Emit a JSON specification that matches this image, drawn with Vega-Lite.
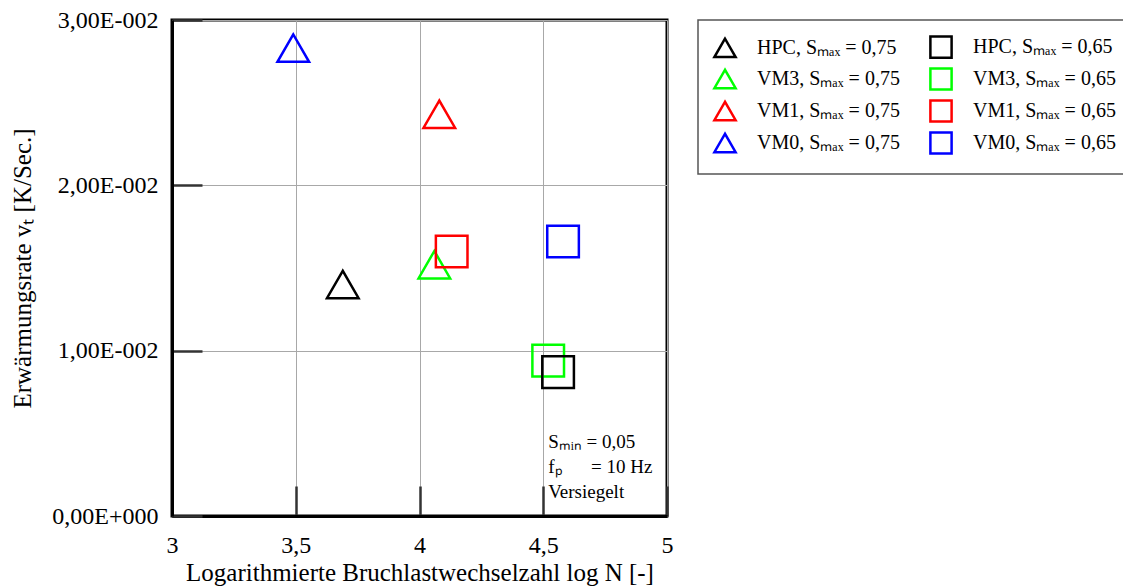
{
  "$schema": "https://vega.github.io/schema/vega-lite/v6.json",
  "width": 495,
  "height": 496,
  "autosize": {"type": "none"},
  "padding": {"left": 172, "top": 20, "right": 456, "bottom": 72},
  "background": "white",
  "config": {
    "font": "Liberation Serif",
    "view": {"stroke": "black", "strokeWidth": 3},
    "axis": {"labelFont": "Liberation Serif", "titleFont": "Liberation Serif"},
    "legend": {"strokeWidth": 1.5}
  },
  "layer": [
    {
      "data": {
        "values": [
          {"series": "VM0, Sₘₐₓ = 0,75", "logN": 3.49, "vT": 0.0283},
          {"series": "VM1, Sₘₐₓ = 0,75", "logN": 4.08, "vT": 0.0243},
          {"series": "HPC, Sₘₐₓ = 0,75", "logN": 3.69, "vT": 0.0140},
          {"series": "VM3, Sₘₐₓ = 0,75", "logN": 4.06, "vT": 0.0152},
          {"series": "VM1, Sₘₐₓ = 0,65", "logN": 4.13, "vT": 0.0160},
          {"series": "VM0, Sₘₐₓ = 0,65", "logN": 4.58, "vT": 0.0166},
          {"series": "VM3, Sₘₐₓ = 0,65", "logN": 4.52, "vT": 0.0094},
          {"series": "HPC, Sₘₐₓ = 0,65", "logN": 4.56, "vT": 0.0087}
        ]
      },
      "mark": {"type": "point", "filled": false, "strokeWidth": 2.5, "size": 1000, "opacity": 1},
      "encoding": {
        "x": {
          "field": "logN", "type": "quantitative",
          "scale": {"domain": [3, 5], "nice": false, "zero": false},
          "axis": {
            "values": [3, 3.5, 4, 4.5, 5],
            "labelExpr": "replace(toString(datum.value), '.', ',')",
            "grid": true, "gridColor": "#a8a8a8", "gridWidth": 1,
            "domainColor": "black", "domainWidth": 3,
            "tickSize": -30, "tickColor": "#333", "tickWidth": 2.5,
            "labelFontSize": 24, "labelColor": "black", "labelPadding": 47,
            "labelFlush": false,
            "title": "Logarithmierte Bruchlastwechselzahl log N [-]",
            "titleFontSize": 25, "titleFontWeight": "normal", "titleColor": "black", "titlePadding": 3
          }
        },
        "y": {
          "field": "vT", "type": "quantitative",
          "scale": {"domain": [0, 0.03], "nice": false},
          "axis": {
            "values": [0, 0.01, 0.02, 0.03],
            "labelExpr": "datum.value == 0 ? '0,00E+000' : replace(format(datum.value * 100, '.2f'), '.', ',') + 'E-002'",
            "grid": true, "gridColor": "#a8a8a8", "gridWidth": 1,
            "domainColor": "black", "domainWidth": 3,
            "tickSize": -30, "tickColor": "#333", "tickWidth": 2.5,
            "labelFontSize": 24, "labelColor": "black", "labelPadding": 44,
            "labelFlush": false,
            "title": "Erwärmungsrate vₜ [K/Sec.]",
            "titleFontSize": 25, "titleFontWeight": "normal", "titleColor": "black", "titlePadding": 16
          }
        },
        "color": {
          "field": "series", "type": "nominal",
          "scale": {
            "domain": ["HPC, Sₘₐₓ = 0,75", "VM3, Sₘₐₓ = 0,75", "VM1, Sₘₐₓ = 0,75", "VM0, Sₘₐₓ = 0,75", "HPC, Sₘₐₓ = 0,65", "VM3, Sₘₐₓ = 0,65", "VM1, Sₘₐₓ = 0,65", "VM0, Sₘₐₓ = 0,65"],
            "range": ["#000000", "#00ff00", "#ff0000", "#0000ff", "#000000", "#00ff00", "#ff0000", "#0000ff"]
          },
          "legend": {
            "orient": "none", "legendX": 526, "legendY": 0, "columns": 2, "title": null,
            "strokeColor": "#555", "padding": 15, "symbolSize": 450, "symbolStrokeWidth": 2.5,
            "labelFontSize": 20, "labelFont": "Liberation Serif", "labelColor": "black",
            "rowPadding": 0, "columnPadding": 25, "labelOffset": 20, "labelLimit": 400
          }
        },
        "shape": {
          "field": "series", "type": "nominal",
          "scale": {
            "domain": ["HPC, Sₘₐₓ = 0,75", "VM3, Sₘₐₓ = 0,75", "VM1, Sₘₐₓ = 0,75", "VM0, Sₘₐₓ = 0,75", "HPC, Sₘₐₓ = 0,65", "VM3, Sₘₐₓ = 0,65", "VM1, Sₘₐₓ = 0,65", "VM0, Sₘₐₓ = 0,65"],
            "range": ["triangle-up", "triangle-up", "triangle-up", "triangle-up", "square", "square", "square", "square"]
          },
          "legend": {
            "orient": "none", "legendX": 526, "legendY": 0, "columns": 2, "title": null,
            "strokeColor": "#555", "padding": 15, "symbolSize": 450, "symbolStrokeWidth": 2.5,
            "labelFontSize": 20, "labelFont": "Liberation Serif", "labelColor": "black",
            "rowPadding": 0, "columnPadding": 25, "labelOffset": 20, "labelLimit": 400
          }
        }
      }
    },
    {
      "data": {"values": [{"logN": 4.52, "vT": 0.0050, "note": "Sₘᵢₙ = 0,05\nfₚ\u00a0\u00a0\u00a0\u00a0\u00a0\u00a0= 10 Hz\nVersiegelt"}]},
      "mark": {"type": "text", "align": "left", "baseline": "top", "fontSize": 19, "lineHeight": 25, "lineBreak": "\n", "color": "black", "font": "Liberation Serif"},
      "encoding": {
        "x": {"field": "logN", "type": "quantitative"},
        "y": {"field": "vT", "type": "quantitative"},
        "text": {"field": "note"}
      }
    }
  ]
}
